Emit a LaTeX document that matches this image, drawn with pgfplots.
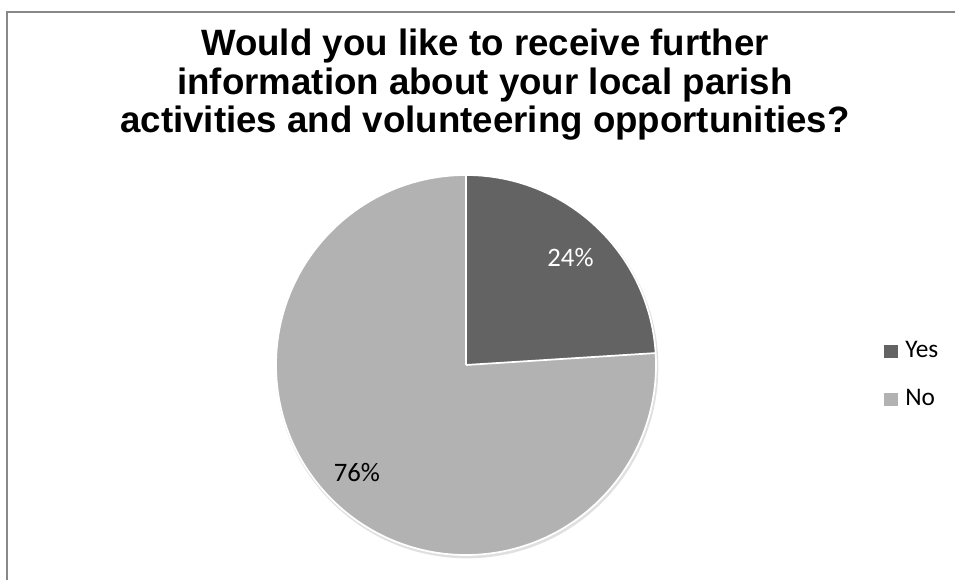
\documentclass[border=0pt]{standalone}
\usepackage{pgfplots}
\usepackage{pgfplotstable}
\usepackage{fontspec}
\pgfplotsset{compat=1.18}
\setmainfont{Liberation Sans}
\newfontfamily\calibri{Carlito}
\definecolor{yescol}{HTML}{636363}
\definecolor{nocol}{HTML}{B2B2B2}
\definecolor{framecol}{HTML}{888888}

\pgfplotstableread{
label value
Yes 24
No 76
}\piedata

\begin{document}
\begin{tikzpicture}
\pgfplotstablegetelem{0}{value}\of\piedata \let\vyes\pgfplotsretval
\pgfplotstablegetelem{1}{value}\of\piedata \let\vno\pgfplotsretval
\pgfmathsetmacro\ayes{90-3.6*\vyes}
\pgfmathsetmacro\ano{\ayes-3.6*\vno}
\begin{axis}[
  name=ax,
  scale only axis, width=716.25pt, height=435pt,
  xmin=0, xmax=955, ymin=0, ymax=580,
  hide axis, clip=true,
]
% frame
\draw[framecol, line width=1.6pt] (axis cs:7,0) -- (axis cs:7,568) -- (axis cs:955,568);
% title
\node[font=\bfseries\fontsize{27.5pt}{32pt}\selectfont, anchor=base] at (axis cs:485,524) {Would you like to receive further};
\node[font=\bfseries\fontsize{27.5pt}{32pt}\selectfont, anchor=base] at (axis cs:485,485) {information about your local parish};
\node[font=\bfseries\fontsize{27.5pt}{32pt}\selectfont, anchor=base] at (axis cs:485,447) {activities and volunteering opportunities?};
% shadow
\fill[black!12] (axis cs:467,213) circle[radius=143.5pt];
% slices
\fill[yescol] (axis cs:466,215) -- ++(90:142.5pt) arc[start angle=90, end angle=\ayes, radius=142.5pt] -- cycle;
\fill[nocol] (axis cs:466,215) -- ++(\ayes:142.5pt) arc[start angle=\ayes, end angle=\ano, radius=142.5pt] -- cycle;
\draw[white, line width=1.3pt] (axis cs:466,215) -- ++(90:142.5pt);
\draw[white, line width=1.3pt] (axis cs:466,215) -- ++(\ayes:142.5pt);
\draw[white, line width=1.3pt] (axis cs:466,215) circle[radius=142.5pt];
% data labels
\node[white, anchor=base, inner sep=0pt, font=\calibri\fontsize{20pt}{24pt}\selectfont] at (axis cs:570.5,313) {\vyes\%};
\node[black, anchor=base, inner sep=0pt, font=\calibri\fontsize{20pt}{24pt}\selectfont] at (axis cs:357,98) {\vno\%};
% legend
\fill[yescol] (axis cs:884,222) rectangle (axis cs:898,235);
\fill[nocol] (axis cs:884,174) rectangle (axis cs:898,187);
\node[anchor=base west, inner sep=0pt, font=\calibri\fontsize{19pt}{22pt}\selectfont] at (axis cs:905,222) {Yes};
\node[anchor=base west, inner sep=0pt, font=\calibri\fontsize{19pt}{22pt}\selectfont] at (axis cs:905,174) {No};
\end{axis}
\pgfresetboundingbox
\path[use as bounding box] (ax.south west) rectangle (ax.north east);
\end{tikzpicture}
\end{document}
